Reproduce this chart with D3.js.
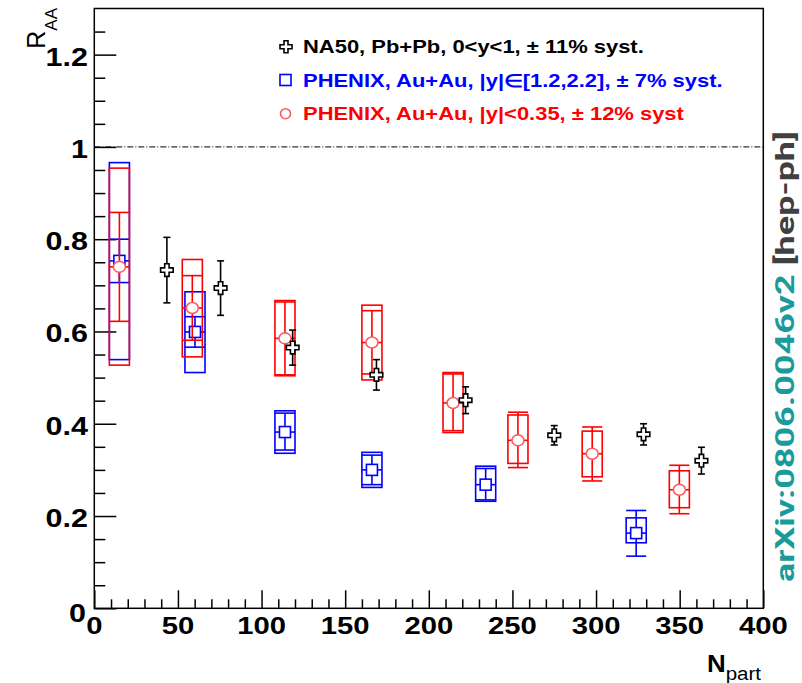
<!DOCTYPE html>
<html>
<head>
<meta charset="utf-8">
<script src="https://cdn.jsdelivr.net/npm/d3@7"></script>
<style>
  body { margin: 0; background: #fff; }
  svg { display: block; }
</style>
</head>
<body>
<svg id="chart" width="802" height="683"></svg>
<script>
// NA50, Pb+Pb, 0<y<1 : R_AA vs N_part with statistical error
const na50Npart = [43.4, 75.5, 118.6, 168.7, 222, 275, 328.4, 363];
const na50Raa   = [0.733, 0.694, 0.565, 0.506, 0.451, 0.375, 0.377, 0.320];
const na50Err   = [0.071, 0.059, 0.038, 0.033, 0.029, 0.021, 0.023, 0.029];

// PHENIX, Au+Au, forward rapidity |y| in [1.2, 2.2]
const fwdNpart  = [15, 60.2, 114, 166, 234, 324];
const fwdRaa    = [0.753, 0.599, 0.382, 0.300, 0.268, 0.163];
const fwdStatLo = [0.706, 0.566, 0.343, 0.268, 0.235, 0.113];
const fwdStatHi = [0.800, 0.632, 0.423, 0.332, 0.303, 0.212];
const fwdSystLo = [0.539, 0.511, 0.336, 0.262, 0.232, 0.142];
const fwdSystHi = [0.966, 0.686, 0.428, 0.338, 0.308, 0.196];

// PHENIX, Au+Au, mid rapidity |y| < 0.35
const midNpart  = [15, 58.6, 114, 166, 214.5, 253.3, 297.7, 349.8];
const midRaa    = [0.740, 0.651, 0.585, 0.576, 0.445, 0.364, 0.335, 0.257];
const midStatLo = [0.622, 0.581, 0.506, 0.508, 0.385, 0.305, 0.276, 0.205];
const midStatHi = [0.858, 0.721, 0.664, 0.645, 0.508, 0.425, 0.393, 0.310];
const midSystLo = [0.527, 0.545, 0.504, 0.495, 0.381, 0.314, 0.285, 0.218];
const midSystHi = [0.954, 0.756, 0.667, 0.657, 0.511, 0.419, 0.384, 0.298];

// Axis tick values
const xMajorTicks = [0, 50, 100, 150, 200, 250, 300, 350, 400];
const yMajorTicks = [0, 0.2, 0.4, 0.6, 0.8, 1, 1.2];
const yTickLabels = ["0", "0.2", "0.4", "0.6", "0.8", "1", "1.2"];

// Legend entries
const legendLabels = [
  "NA50, Pb+Pb, 0<y<1, \u00b1 11% syst.",
  "PHENIX, Au+Au, |y|\u2208[1.2,2.2], \u00b1 7% syst.",
  "PHENIX, Au+Au, |y|<0.35, \u00b1 12% syst"
];

const RED = "#ff0000", BLUE = "#0000ff", BLACK = "#000000";
const FONT = "'Liberation Sans', Arial, Helvetica, sans-serif";
const STRETCH = 1.22;       // horizontal stretch of the Helvetica-style labels
const BOX_HALF = 6;         // half-width of the systematic boxes, in N_part units

const svg = d3.select("#chart");
const plotL = 94.3, plotR = 763.3, plotT = 8.5, plotB = 608.3;

const x = d3.scaleLinear().domain([0, 400]).range([plotL, plotR]);
const y = d3.scaleLinear().domain([0, 1.3]).range([plotB, plotT]);

// ---- frame ----
svg.append("rect")
  .attr("x", plotL).attr("y", plotT)
  .attr("width", plotR - plotL).attr("height", plotB - plotT)
  .attr("fill", "none").attr("stroke", BLACK).attr("stroke-width", 1.5);

// ---- ticks (drawn inward, ROOT style) ----
const xAxis = d3.axisTop(x).tickValues(d3.range(0, 401, 10))
  .tickSize(0).tickFormat("");
const gx = svg.append("g").attr("transform", `translate(0,${plotB})`).call(xAxis);
gx.select(".domain").remove();
gx.selectAll(".tick line")
  .attr("y2", d => (d % 50 === 0 ? -18 : -9))
  .attr("stroke", BLACK).attr("stroke-width", 1.5);

const yAxis = d3.axisRight(y).tickValues(d3.range(0, 26).map(i => i * 0.05))
  .tickSize(0).tickFormat("");
const gy = svg.append("g").attr("transform", `translate(${plotL},0)`).call(yAxis);
gy.select(".domain").remove();
gy.selectAll(".tick line")
  .attr("x2", (d, i) => (i % 4 === 0 ? 22 : 11))
  .attr("stroke", BLACK).attr("stroke-width", 1.5);

// ---- tick labels ----
svg.append("g").selectAll("text").data(xMajorTicks).join("text")
  .attr("transform", d => `translate(${x(d)},${634}) scale(${STRETCH},1)`)
  .attr("text-anchor", "middle")
  .attr("font-family", FONT).attr("font-weight", "bold").attr("font-size", 24)
  .text(d => d);

svg.append("g").selectAll("text").data(yMajorTicks).join("text")
  .attr("transform", d => `translate(${d === 0 ? 86 : 88},${y(d) + (d === 0 ? 14 : 11)}) scale(${STRETCH},1)`)
  .attr("text-anchor", "end")
  .attr("font-family", FONT).attr("font-weight", "bold").attr("font-size", 25)
  .text((d, i) => yTickLabels[i]);

// ---- axis titles ----
const yTitle = svg.append("text")
  .attr("transform", "translate(45,8) rotate(-90)")
  .attr("text-anchor", "end")
  .attr("font-family", FONT).attr("font-size", 25);
yTitle.append("tspan").text("R");
yTitle.append("tspan").attr("dy", 12).attr("font-size", 17).text("AA");

const xTitle = svg.append("text")
  .attr("transform", "translate(761,672) scale(1.08,1)")
  .attr("text-anchor", "end")
  .attr("font-family", FONT).attr("font-weight", "bold").attr("font-size", 24);
xTitle.append("tspan").text("N");
xTitle.append("tspan").attr("dy", 8).attr("font-size", 19).attr("font-weight", "normal").text("part");

// ---- reference line at R_AA = 1 ----
svg.append("line")
  .attr("x1", plotL).attr("x2", plotR).attr("y1", y(1)).attr("y2", y(1))
  .attr("stroke", BLACK).attr("stroke-width", 1)
  .attr("stroke-dasharray", "6,2,1,2");

// ---- marker shapes ----
function crossPath(a, L) {
  return `M${-a},${-L}H${a}V${-a}H${L}V${a}H${a}V${L}H${-a}V${a}H${-L}V${-a}H${-a}Z`;
}

// PHENIX point: systematic box, stat bar with box-wide caps, horizontal bar, marker
function drawPhenix(npart, raa, sLo, sHi, bLo, bHi, color, marker) {
  const g = svg.append("g").attr("stroke", color).attr("fill", "none").attr("stroke-width", 1.6);
  npart.forEach((n, i) => {
    const x0 = x(n - BOX_HALF), x1 = x(n + BOX_HALF), xc = x(n);
    g.append("rect")
      .attr("x", x0).attr("y", y(bHi[i]))
      .attr("width", x1 - x0).attr("height", y(bLo[i]) - y(bHi[i]));
    g.append("line").attr("x1", xc).attr("x2", xc)
      .attr("y1", y(sHi[i])).attr("y2", y(sLo[i]));
    [sLo[i], sHi[i]].forEach(v => {
      g.append("line").attr("x1", x0).attr("x2", x1).attr("y1", y(v)).attr("y2", y(v));
    });
    g.append("line").attr("x1", x0).attr("x2", x1)
      .attr("y1", y(raa[i])).attr("y2", y(raa[i]));
    if (marker === "square") {
      g.append("rect").attr("x", xc - 5.5).attr("y", y(raa[i]) - 5.5)
        .attr("width", 11).attr("height", 11).attr("fill", "#fff");
    } else {
      g.append("ellipse").attr("cx", xc).attr("cy", y(raa[i]))
        .attr("rx", 6).attr("ry", 5.5).attr("fill", "#fff").attr("stroke", "#ff5a5a");
    }
  });
}

drawPhenix(fwdNpart, fwdRaa, fwdStatLo, fwdStatHi, fwdSystLo, fwdSystHi, BLUE, "square");
drawPhenix(midNpart, midRaa, midStatLo, midStatHi, midSystLo, midSystHi, RED, "circle");

// NA50 points
const gNa = svg.append("g").attr("stroke", BLACK).attr("stroke-width", 1.6).attr("fill", "none");
na50Npart.forEach((n, i) => {
  const xc = x(n), yc = y(na50Raa[i]);
  const yHi = y(na50Raa[i] + na50Err[i]), yLo = y(na50Raa[i] - na50Err[i]);
  gNa.append("line").attr("x1", xc).attr("x2", xc).attr("y1", yHi).attr("y2", yLo);
  gNa.append("line").attr("x1", xc - 3.5).attr("x2", xc + 3.5).attr("y1", yHi).attr("y2", yHi);
  gNa.append("line").attr("x1", xc - 3.5).attr("x2", xc + 3.5).attr("y1", yLo).attr("y2", yLo);
  gNa.append("path").attr("d", crossPath(2.2, 6.3))
    .attr("transform", `translate(${xc},${yc})`).attr("fill", "#fff");
});

// ---- legend ----
const legendColors = [BLACK, BLUE, RED];
const legendY = [46.7, 80, 113.7];
legendLabels.forEach((lab, i) => {
  const cy = legendY[i];
  if (i === 0) {
    svg.append("path").attr("d", crossPath(2, 6))
      .attr("transform", `translate(286,${cy})`)
      .attr("fill", "none").attr("stroke", BLACK).attr("stroke-width", 1.6);
  } else if (i === 1) {
    svg.append("rect").attr("x", 280).attr("y", cy - 5.5).attr("width", 11).attr("height", 11)
      .attr("fill", "none").attr("stroke", BLUE).attr("stroke-width", 1.6);
  } else {
    svg.append("circle").attr("cx", 285.5).attr("cy", cy).attr("r", 5)
      .attr("fill", "none").attr("stroke", "#ff5a5a").attr("stroke-width", 1.6);
  }
  svg.append("text")
    .attr("transform", `translate(303,${cy + 6.5}) scale(${STRETCH},1)`)
    .attr("font-family", FONT).attr("font-weight", "bold").attr("font-size", 18)
    .attr("fill", legendColors[i])
    .text(lab);
});

// ---- arXiv stamp along the right edge ----
const stamp = svg.append("text")
  .attr("transform", "translate(794,582) rotate(-90) scale(1.44,1)")
  .attr("font-family", "Roboto, 'Liberation Sans', sans-serif")
  .attr("font-weight", "bold").attr("font-size", 25);
stamp.append("tspan").attr("fill", "#1a9b9b").text("arXiv:0806.0046v2 ");
stamp.append("tspan").attr("fill", "#404040").text("[hep-ph]");
</script>
</body>
</html>
